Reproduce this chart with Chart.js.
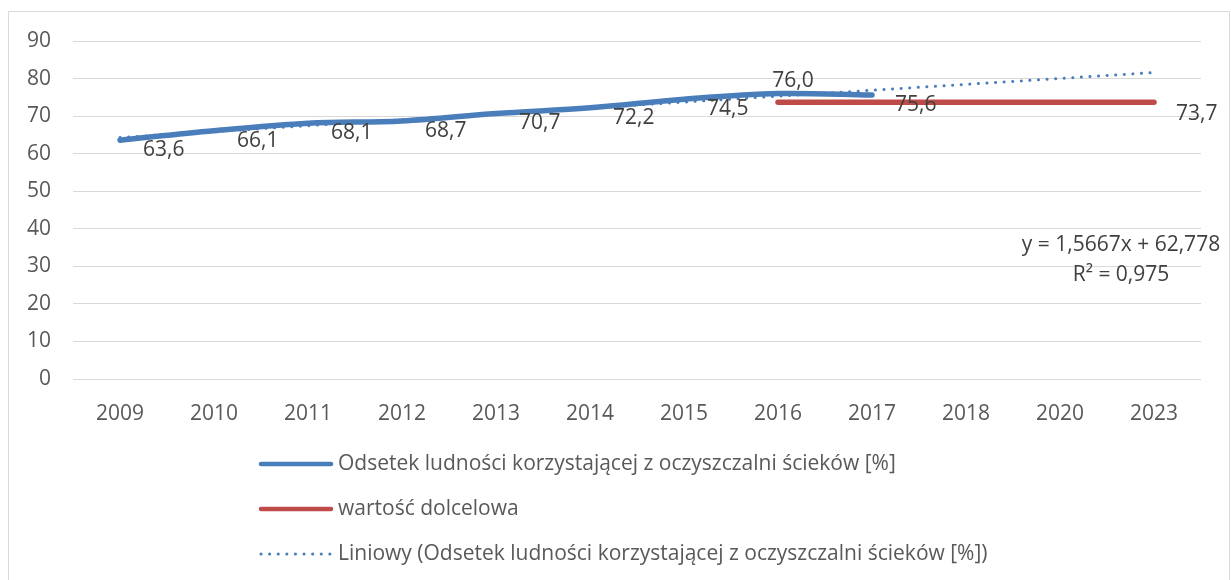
<!DOCTYPE html>
<html lang="pl">
<head>
<meta charset="utf-8">
<title>Odsetek ludności korzystającej z oczyszczalni ścieków</title>
<script src="https://cdn.jsdelivr.net/npm/chart.js@4/dist/chart.umd.min.js"></script>
<style>
  html, body { margin: 0; padding: 0; background: #fff; overflow: hidden; }
  #frame { position: absolute; left: 8px; top: 11px; width: 1222px; height: 620px; border: 1px solid #d9d9d9; box-sizing: border-box; }
  #wrap { position: absolute; left: 0; top: 0; width: 1231px; height: 580px; }
</style>
</head>
<body>
<div id="frame"></div>
<div id="wrap"><canvas id="chart" width="1231" height="580"></canvas></div>
<script>
// Lata na osi x
const years = ["2009", "2010", "2011", "2012", "2013", "2014", "2015", "2016", "2017", "2018", "2020", "2023"];

// Odsetek ludności korzystającej z oczyszczalni ścieków [%]
const odsetek = [63.6, 66.1, 68.1, 68.7, 70.7, 72.2, 74.5, 76.0, 75.6, null, null, null];

// Wartość docelowa (od 2016 do 2023)
const dolcelowa = [null, null, null, null, null, null, null, 73.7, 73.7, 73.7, 73.7, 73.7];

// Linia trendu - tylko punkty końcowe
const trend = [64.3, null, null, null, null, null, null, null, null, null, null, 81.6];

// Skala y
const yMin = 0;
const yMax = 90;
const yStep = 10;

// Równanie trendu
const trendText = ["y = 1,5667x + 62,778", "R² = 0,975"];

const labelNames = [
  "Odsetek ludności korzystającej z oczyszczalni ścieków [%]",
  "wartość dolcelowa",
  "Liniowy (Odsetek ludności korzystającej z oczyszczalni ścieków [%])",
];

const FONT = "'Open Sans', 'Liberation Sans', sans-serif";
const BLUE = "#4a7ebb";
const RED = "#be4b48";

const fmt = (v) => v.toFixed(1).replace(".", ",");

// Etykiety danych (jak w Excelu: po prawej stronie punktu)
const dataLabels = {
  id: "dataLabels",
  afterDatasetsDraw(chart) {
    const ctx = chart.ctx;
    ctx.save();
    ctx.font = "21px " + FONT;
    ctx.fillStyle = "#404040";
    ctx.textBaseline = "middle";

    const meta0 = chart.getDatasetMeta(0);
    const max = Math.max(...odsetek.filter((v) => v !== null));
    odsetek.forEach((v, i) => {
      if (v === null) return;
      const p = meta0.data[i];
      if (v === max) {
        ctx.textAlign = "center";
        ctx.fillText(fmt(v), p.x + 15, p.y - 13);
      } else {
        ctx.textAlign = "left";
        ctx.fillText(fmt(v), p.x + 23, p.y + 10);
      }
    });

    // tylko ostatni punkt wartości docelowej
    const meta1 = chart.getDatasetMeta(1);
    const last = dolcelowa.length - 1;
    const p = meta1.data[last];
    ctx.textAlign = "left";
    ctx.fillText(fmt(dolcelowa[last]), p.x + 22, p.y + 12);

    // równanie trendu
    const x = chart.scales.x;
    const y = chart.scales.y;
    ctx.textAlign = "center";
    ctx.fillText(trendText[0], x.getPixelForValue(11) - 33, y.getPixelForValue(35.7));
    ctx.fillText(trendText[1], x.getPixelForValue(11) - 33, y.getPixelForValue(27.7));
    ctx.restore();
  },
};

// Legenda pod wykresem, wyrównana do lewej
const excelLegend = {
  id: "excelLegend",
  afterDraw(chart) {
    const ctx = chart.ctx;
    const x0 = 261;
    const lineLen = 70;
    chart.data.datasets.forEach((ds, i) => {
      const y = chart.chartArea.bottom + 85 + i * 45;
      ctx.save();
      ctx.strokeStyle = ds.borderColor;
      ctx.lineCap = "round";
      ctx.lineWidth = ds.borderDash ? 3 : 4.5;
      if (ds.borderDash) ctx.setLineDash(ds.borderDash);
      ctx.beginPath();
      ctx.moveTo(x0, y);
      ctx.lineTo(x0 + lineLen, y);
      ctx.stroke();
      ctx.setLineDash([]);
      ctx.font = "21px " + FONT;
      ctx.fillStyle = "#595959";
      ctx.textBaseline = "middle";
      ctx.textAlign = "left";
      ctx.fillText(ds.label, x0 + lineLen + 7, y);
      ctx.restore();
    });
  },
};

const data = {
  labels: years,
  datasets: [
    {
      label: labelNames[0],
      data: odsetek,
      borderColor: BLUE,
      borderWidth: 5.5,
      tension: 0.35,
      borderCapStyle: "round",
      borderJoinStyle: "round",
      pointRadius: 0,
    },
    {
      label: labelNames[1],
      data: dolcelowa,
      borderColor: RED,
      borderWidth: 5.5,
      borderCapStyle: "round",
      pointRadius: 0,
    },
    {
      label: labelNames[2],
      data: trend,
      borderColor: BLUE,
      borderWidth: 3,
      borderDash: [0.1, 8.5],
      borderCapStyle: "round",
      spanGaps: true,
      pointRadius: 0,
    },
  ],
};

const config = {
  type: "line",
  data,
  plugins: [dataLabels, excelLegend],
  options: {
    responsive: false,
    animation: false,
    devicePixelRatio: 1,
    layout: {
      padding: { left: 8, right: 30, top: 41, bottom: 141 },
    },
    plugins: {
      legend: { display: false },
      tooltip: { enabled: false },
    },
    scales: {
      x: {
        offset: true,
        grid: { display: false },
        border: { display: false },
        ticks: {
          color: "#595959",
          font: { family: FONT, size: 21 },
          padding: 14,
          maxRotation: 0,
        },
        afterFit: (scale) => {
          scale.height = 60;
        },
      },
      y: {
        min: yMin,
        max: yMax,
        grid: { color: "#d9d9d9", lineWidth: 1, drawTicks: false },
        border: { display: false },
        ticks: {
          stepSize: yStep,
          color: "#595959",
          font: { family: FONT, size: 21 },
          padding: 22,
        },
        afterFit: (scale) => {
          scale.width = 65;
        },
      },
    },
  },
};

const canvas = document.getElementById("chart");
const myChart = new Chart(canvas, config);
</script>
</body>
</html>
